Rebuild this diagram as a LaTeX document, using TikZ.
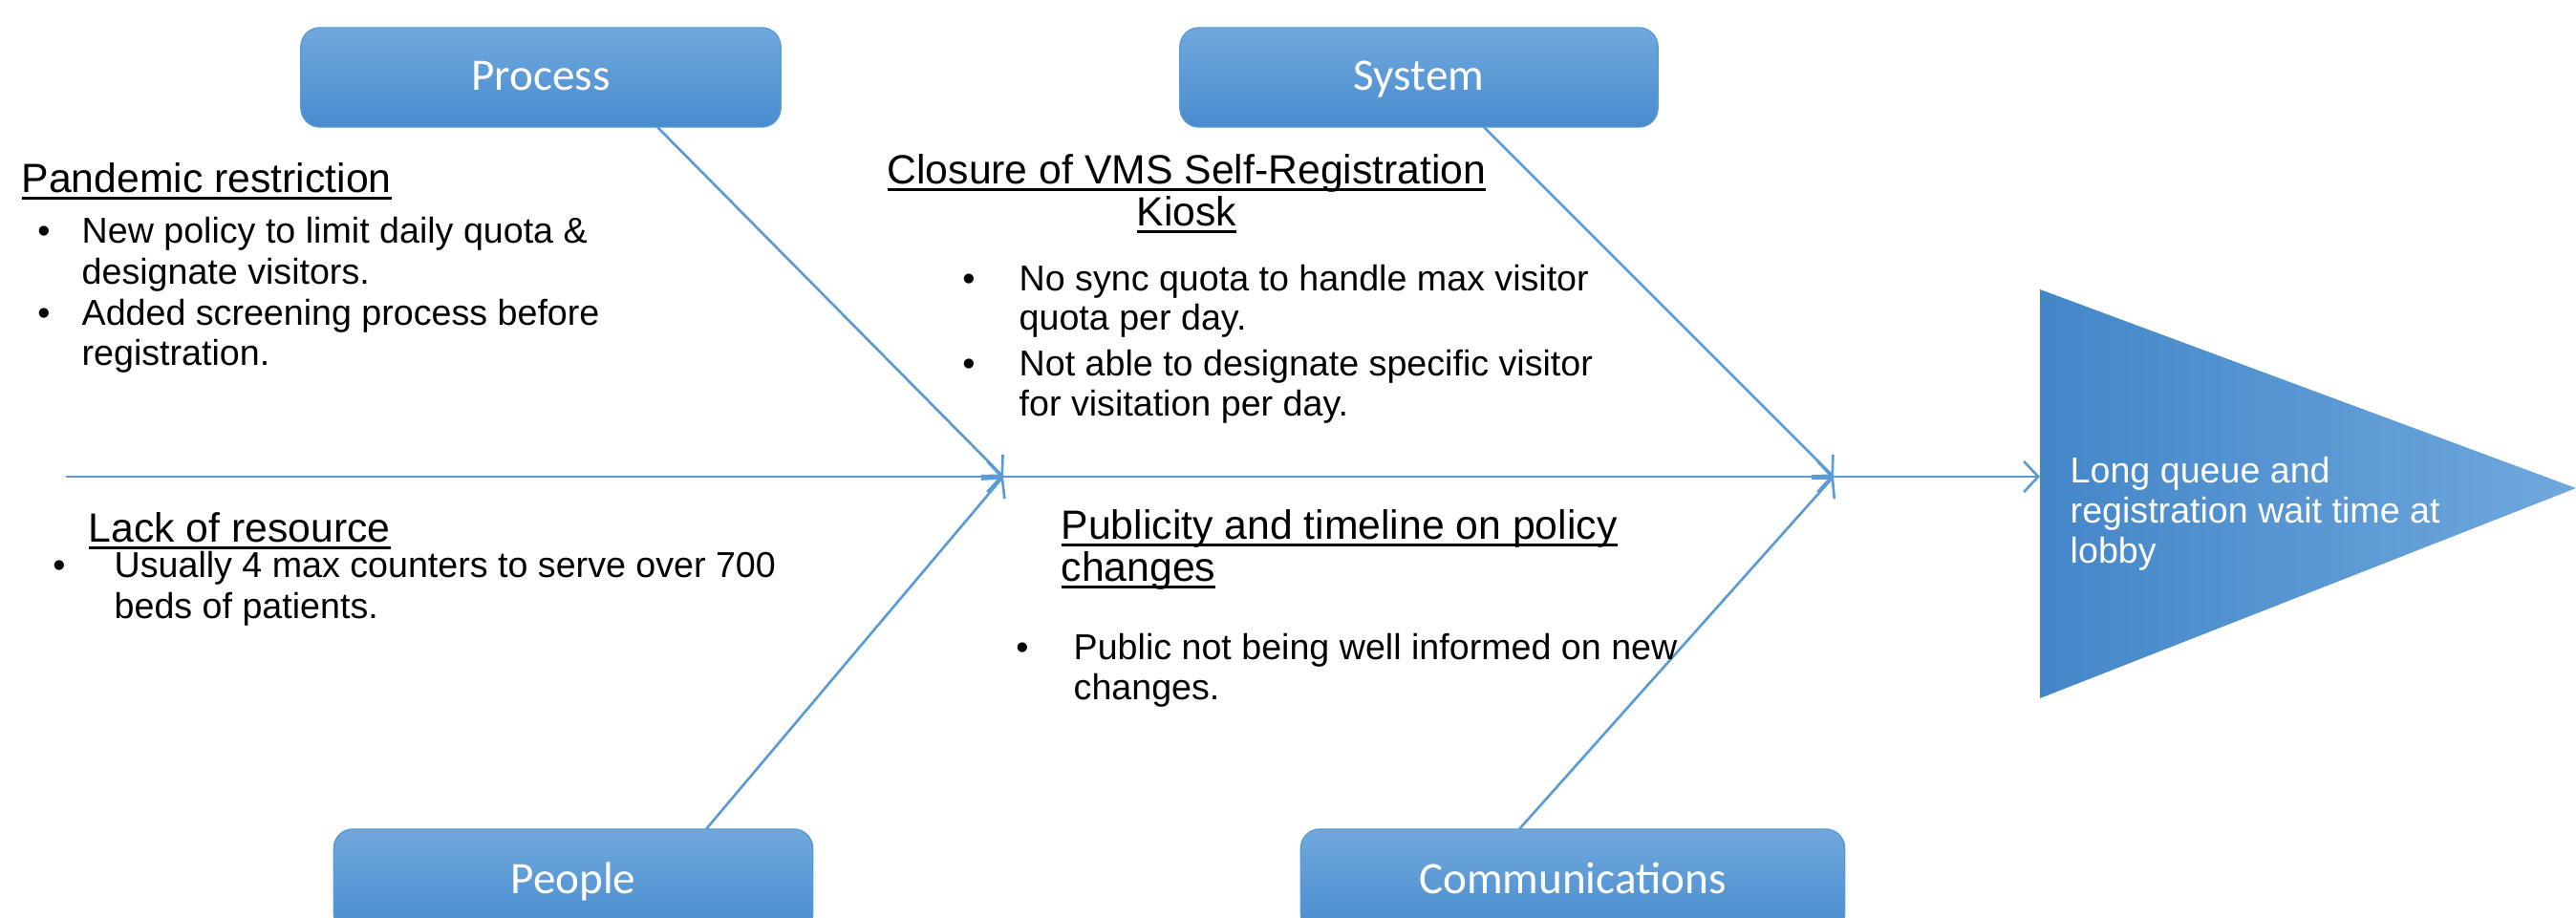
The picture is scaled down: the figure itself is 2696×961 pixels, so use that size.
\documentclass[tikz,border=0pt]{standalone}
\usepackage{fontspec}
\setmainfont{Liberation Sans}
\newfontfamily\calibrifont{Carlito}
\usetikzlibrary{arrows.meta}
\definecolor{linec}{HTML}{5B9BD5}
\definecolor{boxtop}{HTML}{71A8DD}
\definecolor{boxbot}{HTML}{488CCE}
\definecolor{boxedge}{HTML}{5B9BD5}
\definecolor{trileft}{HTML}{4386C8}
\definecolor{triright}{HTML}{70A8DD}
\newcommand\myul[1]{\setbox0\hbox{#1}\rlap{\rule[-0.17em]{\wd0}{0.07em}}\box0}
\tikzset{
  catbox/.style={rounded corners=0.2cm, draw=boxedge, line width=0.4pt, top color=boxtop, bottom color=boxbot, text=white, font=\calibrifont\fontsize{13.4}{16}\selectfont, inner sep=0, text height=0.8em, text depth=0.05em},
  bone/.style={draw=linec, line width=0.75pt, -{Straight Barb[length=0.15cm,width=0.32cm]}},
  headtxt/.style={anchor=base west, inner sep=0, font=\fontsize{12.15}{13}\selectfont},
  bodytxt/.style={anchor=base west, inner sep=0, font=\fontsize{10.7}{12}\selectfont},
  bul/.style={anchor=base, inner sep=0, font=\fontsize{10.7}{12}\selectfont},
  efftxt/.style={anchor=base west, inner sep=0, text=white, font=\fontsize{10.7}{12}\selectfont},
}
\begin{document}
\begin{tikzpicture}[x=0.01cm,y=-0.01cm]
\useasboundingbox (0,0) rectangle (2696,961);
% category boxes
\node[catbox, minimum width=5.02cm, minimum height=1.04cm] (proc) at (566,81) {Process};
\node[catbox, minimum width=5.00cm, minimum height=1.04cm] (sys) at (1485,81) {System};
\node[catbox, minimum width=5.01cm, minimum height=1.08cm] (peop) at (600,922) {People};
\node[catbox, minimum width=5.69cm, minimum height=1.08cm] (comm) at (1646,922) {Communications};
% effect triangle
\shade[left color=trileft, right color=triright] (2135,303) -- (2696,511) -- (2135,731) -- cycle;
\coordinate (eff) at (2135,499);
% junctions and bone ends
\coordinate (start) at (69,499);
\coordinate (j1) at (1050,499);
\coordinate (j2) at (1919,499);
\coordinate (pb) at (688,133);
\coordinate (sb) at (1553,133);
\coordinate (qb) at (739,868);
\coordinate (cb) at (1590,868);
% spine
\draw[bone] (start) -- (j1);
\draw[bone] (j1) -- (j2);
\draw[bone] (j2) -- (eff);
% bones
\draw[bone] (pb) -- (j1);
\draw[bone] (qb) -- (j1);
\draw[bone] (sb) -- (j2);
\draw[bone] (cb) -- (j2);
% Process texts
\node[headtxt] (h1) at (22,202) {\myul{Pandemic restriction}};
\node[bul] (b1) at (46,255) {•};
\node[bodytxt] (t1a) at (85,255) {New policy to limit daily quota \&};
\node[bodytxt] (t1b) at (85,298) {designate visitors.};
\node[bul] (b2) at (46,341) {•};
\node[bodytxt] (t2a) at (85,341) {Added screening process before};
\node[bodytxt] (t2b) at (85,383) {registration.};
% System texts
\node[headtxt, anchor=base] (h2) at (1242,193) {\myul{Closure of VMS Self-Registration}};
\node[headtxt, anchor=base] (h2b) at (1242,237) {\myul{Kiosk}};
\node[bul] (b3) at (1014,305) {•};
\node[bodytxt] (t3a) at (1066,305) {No sync quota to handle max visitor};
\node[bodytxt] (t3b) at (1066,346) {quota per day.};
\node[bul] (b4) at (1014,394) {•};
\node[bodytxt] (t4a) at (1066,394) {Not able to designate specific visitor};
\node[bodytxt] (t4b) at (1066,436) {for visitation per day.};
% People texts
\node[headtxt] (h3) at (92,568) {\myul{Lack of resource}};
\node[bul] (b5) at (62,604) {•};
\node[bodytxt] (t5a) at (119,604) {Usually 4 max counters to serve over 700};
\node[bodytxt] (t5b) at (119,647) {beds of patients.};
% Communications texts
\node[headtxt] (h4) at (1110,565) {\myul{Publicity and timeline on policy}};
\node[headtxt] (h4b) at (1110,609) {\myul{changes}};
\node[bul] (b6) at (1070,691) {•};
\node[bodytxt] (t6a) at (1123,691) {Public not being well informed on new};
\node[bodytxt] (t6b) at (1123,732) {changes.};
% effect text
\node[efftxt] (e1) at (2166,506) {Long queue and};
\node[efftxt] (e2) at (2166,548) {registration wait time at};
\node[efftxt] (e3) at (2166,590) {lobby};
\end{tikzpicture}
\end{document}
